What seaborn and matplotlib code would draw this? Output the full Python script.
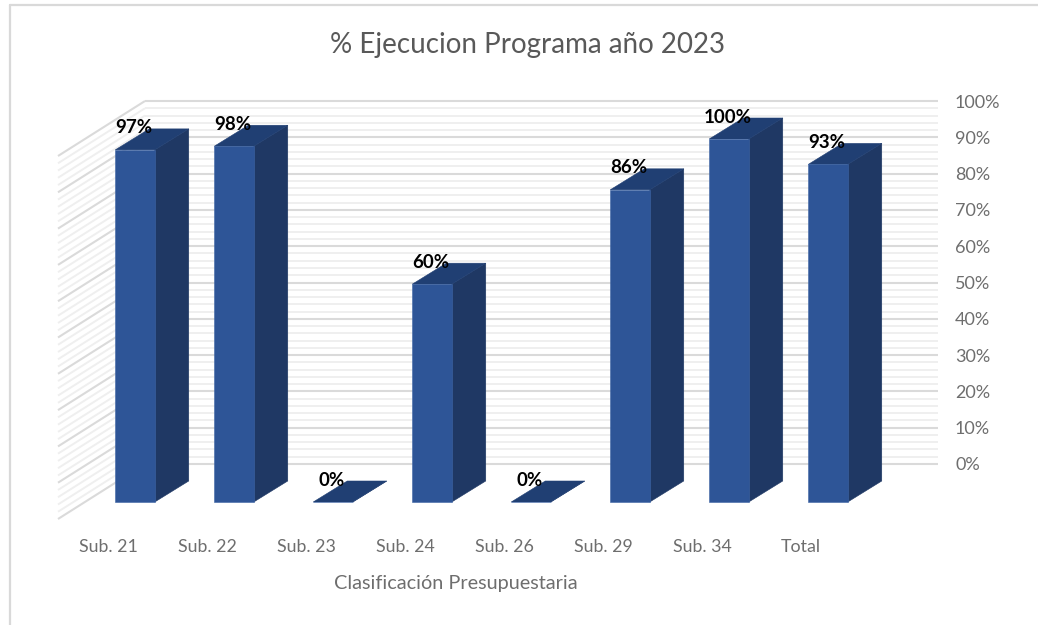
import matplotlib
matplotlib.use("Agg")
import matplotlib.pyplot as plt
import seaborn as sns
from matplotlib.patches import Polygon

# Values
categories = ["Sub. 21", "Sub. 22", "Sub. 23", "Sub. 24", "Sub. 26", "Sub. 29", "Sub. 34", "Total"]
execution = [97, 98, 0, 60, 0, 86, 100, 93]
axis_ticks = list(range(0, 101, 10))
minor_ticks = list(range(0, 101, 2))

FRONT = "#2E5597"
SIDE = "#1F3864"
TOP = "#203F73"
GREY = "#6E6E6E"

W, H = 1038, 625
PX_X = 99.0    # pixels per category
PX_Y = 3.63    # pixels per percent
X0, Y0 = 135, 502   # pixel position of first bar centre / front floor

sns.set_theme(style="white")
plt.rcParams["font.family"] = ["Lato", "DejaVu Sans"]

fig = plt.figure(figsize=(W / 100, H / 100), dpi=100, facecolor="white")
ax = fig.add_axes([0, 0, 1, 1])

sns.barplot(x=categories, y=execution, color=FRONT, saturation=1, width=39.5 / PX_X,
            edgecolor="#3F66A6", linewidth=0.4, ax=ax, zorder=5)

ax.set_xlim(-X0 / PX_X, (W - X0) / PX_X)
ax.set_ylim((Y0 - H) / PX_Y, Y0 / PX_Y)
ax.axis("off")

# depth of the bars and of the chart box, in data units
bar_dx, bar_dy = 34 / PX_X, 21 / PX_Y
wall_y = 38 / PX_Y
wall_left = (145 - X0) / PX_X
wall_right = (938 - X0) / PX_X
front_left = (58 - X0) / PX_X
side_dy = 55 / PX_Y

# back wall and left wall
for v in minor_ticks:
    major = v % 10 == 0
    col = "#DADADA" if major else "#EFEFEF"
    lw = 1.5 if major else 1.4
    z = 2 if major else 1
    y = v + wall_y
    ax.plot([wall_left, wall_right], [y, y], color=col, lw=lw, zorder=z, solid_capstyle="butt")
    ax.plot([front_left, wall_left], [y - side_dy, y], color=col, lw=lw, zorder=z, solid_capstyle="butt")

# 3D faces built from the bars seaborn drew
for bar in ax.patches[:len(categories)]:
    x1 = bar.get_x()
    x2 = x1 + bar.get_width()
    h = bar.get_height()
    side = [(x2, 0), (x2 + bar_dx, bar_dy), (x2 + bar_dx, h + bar_dy), (x2, h)]
    top = [(x1, h), (x2, h), (x2 + bar_dx, h + bar_dy), (x1 + bar_dx, h + bar_dy)]
    ax.add_patch(Polygon(side, closed=True, facecolor=SIDE, edgecolor=SIDE, lw=0.4, zorder=4))
    ax.add_patch(Polygon(top, closed=True, facecolor=TOP, edgecolor=TOP, lw=0.4, zorder=4))

# data labels
for i, v in enumerate(execution):
    ax.text(i - 1 / PX_X, v + 22 / PX_Y, f"{v}%", ha="center", va="center", color="black",
            fontsize=13.5, fontweight="bold", zorder=6)

# value axis on the right wall
for v in axis_ticks:
    ax.text((955 - X0) / PX_X, v + wall_y - 1.5 / PX_Y, f"{v}%", ha="left", va="center", color=GREY, fontsize=13)

# category labels
for i, name in enumerate(categories):
    ax.text(i - 27 / PX_X, -45 / PX_Y, name, ha="center", va="center", color=GREY, fontsize=12.8)

ax.text((456 - X0) / PX_X, -81 / PX_Y, "Clasificación Presupuestaria", ha="center", va="center",
        color=GREY, fontsize=14.3)
ax.text((528 - X0) / PX_X, (Y0 - 45) / PX_Y, "% Ejecucion Programa año 2023", ha="center", va="center",
        color="#595959", fontsize=20)

# chart frame, top and left only
ax.plot([(10 - X0) / PX_X, (W - X0) / PX_X], [(Y0 - 5) / PX_Y] * 2, color="#D9D9D9", lw=1.6)
ax.plot([(10 - X0) / PX_X] * 2, [(Y0 - 5) / PX_Y, (Y0 - H) / PX_Y], color="#D9D9D9", lw=1.6)

fig.savefig("out.png", dpi=100)
